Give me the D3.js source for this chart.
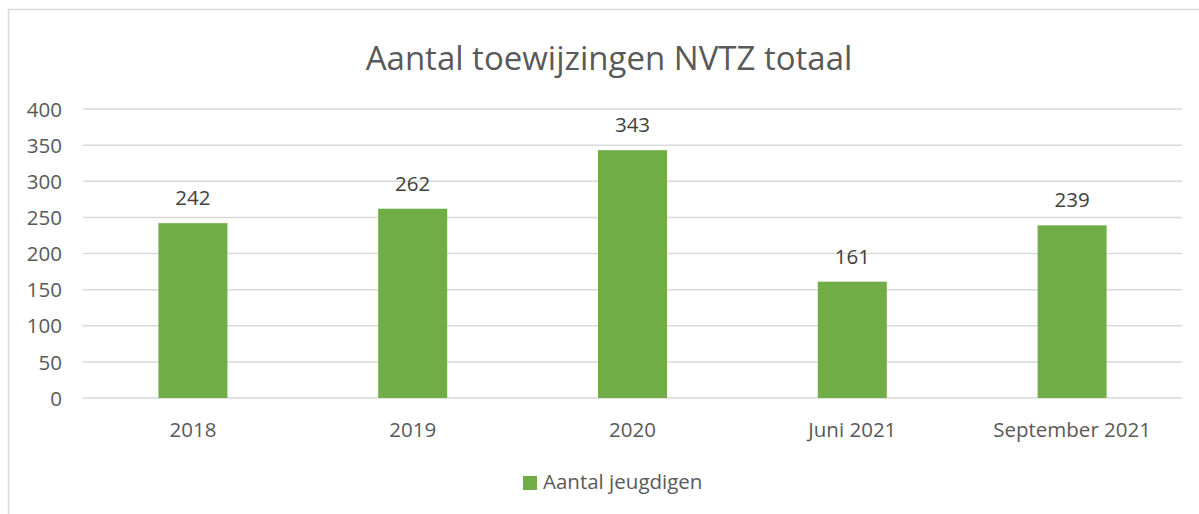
<!DOCTYPE html>
<html>
<head>
<meta charset="utf-8">
<script src="https://cdn.jsdelivr.net/npm/d3@7"></script>
<style>
  body { margin: 0; background: #fff; }
  svg { display: block; }
</style>
</head>
<body>
<svg id="chart" width="1199" height="514"></svg>
<script>
// chart data
const categories = ['2018', '2019', '2020', 'Juni 2021', 'September 2021']
const values = [242, 262, 343, 161, 239]
const yTicks = [0, 50, 100, 150, 200, 250, 300, 350, 400]
const seriesName = 'Aantal jeugdigen'
const title = 'Aantal toewijzingen NVTZ totaal'

const font = '"Open Sans", Lato, sans-serif'
const green = '#70ad47'
const labelSize = 20.5

const svg = d3.select('#chart')

// outer chart border (only top and left visible)
svg.append('rect')
  .attr('x', 8.5).attr('y', 9.5)
  .attr('width', 1300).attr('height', 600)
  .attr('fill', 'none')
  .attr('stroke', '#d9d9d9')
  .attr('stroke-width', 1.5)

const plot = { left: 83, right: 1182, top: 109, bottom: 398 }

const x = d3.scaleBand()
  .domain(categories)
  .range([plot.left, plot.right])
  .paddingInner(0.686)
  .paddingOuter(0.343)

const y = d3.scaleLinear()
  .domain([0, 400])
  .range([plot.bottom, plot.top])

// gridlines
svg.append('g')
  .selectAll('line')
  .data(yTicks)
  .join('line')
  .attr('x1', plot.left).attr('x2', plot.right)
  .attr('y1', d => y(d)).attr('y2', d => y(d))
  .attr('stroke', '#d9d9d9')
  .attr('stroke-width', 1.5)

// y axis labels
const yAxis = svg.append('g')
  .attr('transform', `translate(${plot.left - 21},0)`)
  .call(d3.axisLeft(y).tickValues(yTicks).tickSize(0).tickPadding(0))
yAxis.select('.domain').remove()
yAxis.selectAll('text')
  .attr('font-family', font)
  .attr('font-size', labelSize)
  .attr('fill', '#595959')
  .attr('dy', '0.35em')

// bars
svg.append('g')
  .selectAll('rect')
  .data(values)
  .join('rect')
  .attr('x', (d, i) => x(categories[i]))
  .attr('width', x.bandwidth())
  .attr('y', d => y(d))
  .attr('height', d => y(0) - y(d))
  .attr('fill', green)

// data labels
svg.append('g')
  .selectAll('text')
  .data(values)
  .join('text')
  .attr('x', (d, i) => x(categories[i]) + x.bandwidth() / 2)
  .attr('y', d => y(d) - 18)
  .attr('text-anchor', 'middle')
  .attr('font-family', font)
  .attr('font-size', labelSize)
  .attr('fill', '#404040')
  .text(d => d)

// x axis labels
const xAxis = svg.append('g')
  .attr('transform', `translate(0,${plot.bottom})`)
  .call(d3.axisBottom(x).tickSize(0).tickPadding(0))
xAxis.select('.domain').remove()
xAxis.selectAll('text')
  .attr('font-family', font)
  .attr('font-size', labelSize)
  .attr('fill', '#595959')
  .attr('dy', 0)
  .attr('y', 39)

// title
svg.append('text')
  .attr('x', 609)
  .attr('y', 70)
  .attr('text-anchor', 'middle')
  .attr('font-family', font)
  .attr('font-size', 33)
  .attr('fill', '#595959')
  .text(title)

// legend
const legend = svg.append('g')
legend.append('rect')
  .attr('x', 523).attr('y', 476)
  .attr('width', 14).attr('height', 14)
  .attr('fill', green)
legend.append('text')
  .attr('x', 543).attr('y', 489)
  .attr('font-family', font)
  .attr('font-size', labelSize)
  .attr('fill', '#595959')
  .text(seriesName)
</script>
</body>
</html>
